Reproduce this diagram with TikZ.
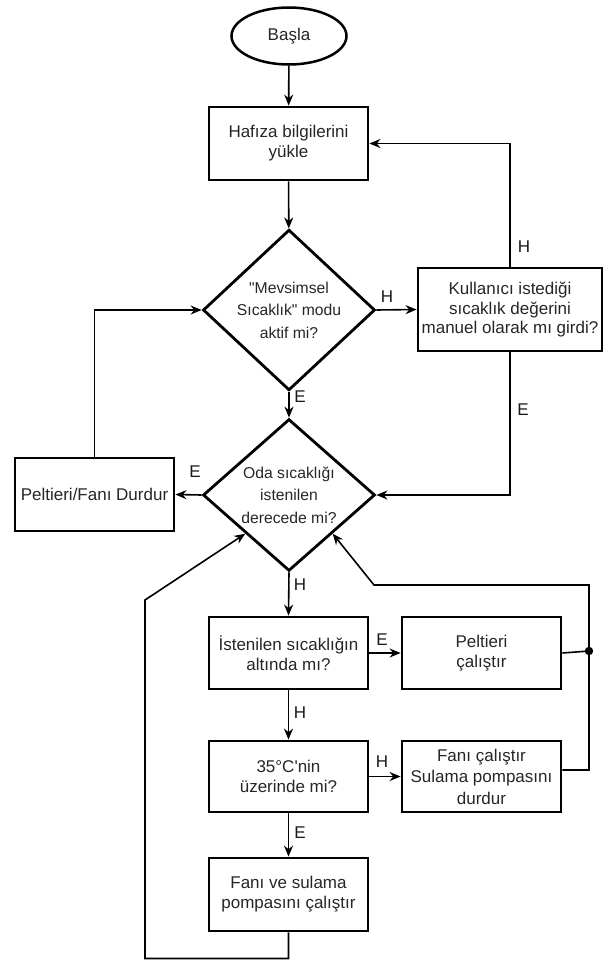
\documentclass[tikz,border=0pt]{standalone}
\usepackage{fontspec}
\setmainfont{Liberation Sans}
\font\qfa="Liberation Sans" at 15.7pt
\font\qfb="Liberation Sans" at 17pt
\usetikzlibrary{shapes.geometric,arrows.meta,calc}
\begin{document}
\begin{tikzpicture}[x=1pt,y=-1pt,
  box/.style={draw, line width=2.8pt, rectangle, minimum width=159pt, minimum height=73pt,
    align=center, font=\fontsize{17}{20}\selectfont, text=black!85, inner sep=0pt},
  dec/.style={draw, line width=2.8pt, diamond, minimum width=172pt, minimum height=144pt,
    align=center, font=\fontsize{15.7}{22.5}\selectfont, text=black!85, inner sep=0pt},
  term/.style={draw, line width=2.5pt, ellipse, minimum width=115pt, minimum height=57pt,
    font=\fontsize{17}{20}\selectfont, text=black!85, inner sep=0pt},
  conn/.style={line width=1.6pt},
  arr/.style={conn, -{Stealth[length=11pt,width=9pt]}},
  lab/.style={font=\fontsize{17}{20}\selectfont, inner sep=0pt, text=black!90}]
\path[use as bounding box] (0,0) rectangle (604,961);

% nodes
\node[term] (start) at (289,36) {Başla};
\node[box] (haf) at (288.5,143.5) {Hafıza bilgilerini\\yükle};
\node[dec] (d1) at (289,310) {{\qfa"}Mevsimsel\\Sıcaklık{\qfa"} modu\\aktif mi?};
\node[box, minimum width=184pt, minimum height=83pt, font=\fontsize{17}{19.5}\selectfont] (kul) at (510,309.5) {Kullanıcı istediği\\sıcaklık değerini\\manuel olarak mı girdi?};
\node[dec] (d2) at (289,495) {Oda sıcaklığı\\istenilen\\derecede mi?};
\node[box] (pfd) at (94.5,494.5) {Peltieri/Fanı Durdur};
\node[box, minimum height=72pt] (ist) at (288.5,653) {İstenilen sıcaklığın\\altında mı?};
\node[box, minimum height=72pt] (pc) at (481.5,653) {Peltieri\\çalıştır};
\node[box, minimum height=71pt] (c35) at (288.5,776.5) {35°C{\qfb'}nin\\üzerinde mi?};
\node[box, minimum height=71pt, font=\fontsize{17}{21.5}\selectfont] (fcal) at (481.5,776.5) {Fanı çalıştır\\Sulama pompasını\\durdur};
\node[box] (fvs) at (288.5,894.5) {Fanı ve sulama\\pompasını çalıştır};

% helper coordinates
\coordinate (d2ll) at ($(d2.west)!0.5!(d2.south)$);
\coordinate (d2lr) at ($(d2.east)!0.5!(d2.south)$);
\coordinate (lb) at (288.5,958.5);
\coordinate (lc) at (145,958.5);
\coordinate (lt) at (145,600);
\coordinate (dot) at (589,651);
\coordinate (rb) at (589,770);
\coordinate (rt) at (589,585);
\coordinate (rm) at (374,585);

% connectors
\draw[arr] (start) -- (haf);
\draw[arr] (haf) -- (d1);
\draw[arr] (d1.east) -- (kul.west);
\draw[arr] (kul.north) |- (haf.east);
\draw[arr] (d1.south) -- (d2.north);
\draw[arr] (kul.south) |- (d2.east);
\draw[arr] (d2.west) -- (pfd.east);
\draw[arr] (pfd.north) |- (d1.west);
\draw[arr] (d2.south) -- (ist.north);
\draw[arr] (ist.east) -- (pc.west);
\draw[arr] (ist.south) -- (c35.north);
\draw[arr] (c35.east) -- (fcal.west);
\draw[arr] (c35.south) -- (fvs.north);
\draw[arr] (fvs.south) -- (lb) -- (lc) -- (lt) -- (d2ll);
\draw[conn] (pc.east) -- (dot);
\draw[arr] ([yshift=6.5pt]fcal.east) -- (rb) -- (rt) -- (rm) -- (d2lr);
\fill (dot) circle (4.2pt);

% labels
\node[lab] (l1) at (524,247) {H};
\node[lab] (l2) at (387,297) {H};
\node[lab] (l3) at (300,397) {E};
\node[lab] (l4) at (195,472) {E};
\node[lab] (l5) at (523,410) {E};
\node[lab] (l6) at (300,585) {H};
\node[lab] (l7) at (382,640) {E};
\node[lab] (l8) at (300,713) {H};
\node[lab] (l9) at (382,762) {H};
\node[lab] (l10) at (300,833) {E};
\end{tikzpicture}
\end{document}
